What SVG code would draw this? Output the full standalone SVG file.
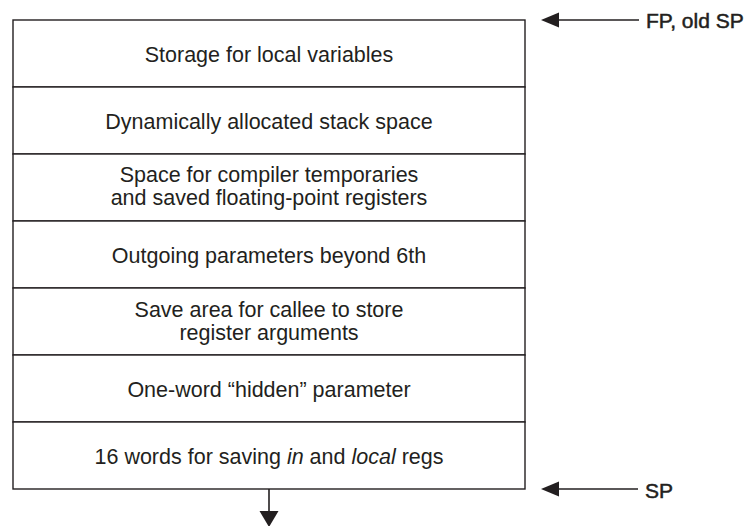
<svg xmlns="http://www.w3.org/2000/svg" width="747" height="526" viewBox="0 0 747 526">
<style>
  .box { fill: #ffffff; stroke: #231f20; stroke-width: 1.4; }
  .t { font-family: "Liberation Sans", Arial, sans-serif; font-size: 21.5px; fill: #231f20; text-anchor: middle; }
  .lbl { font-family: "Liberation Sans", Arial, sans-serif; font-size: 21px; fill: #231f20; stroke: #231f20; stroke-width: 0.5; }
  .ln { stroke: #231f20; stroke-width: 1.6; fill: none; }
  .hd { fill: #231f20; }
</style>
<rect width="747" height="526" fill="#ffffff"/>
<g id="row1"><rect class="box" x="13" y="20" width="512" height="67"/><text class="t" x="269" y="62">Storage for local variables</text></g>
<g id="row2"><rect class="box" x="13" y="87" width="512" height="67"/><text class="t" x="269" y="129">Dynamically allocated stack space</text></g>
<g id="row3"><rect class="box" x="13" y="154" width="512" height="67"/><text class="t" x="269" y="182">Space for compiler temporaries</text><text class="t" x="269" y="205">and saved floating-point registers</text></g>
<g id="row4"><rect class="box" x="13" y="221" width="512" height="67"/><text class="t" x="269" y="263">Outgoing parameters beyond 6th</text></g>
<g id="row5"><rect class="box" x="13" y="288" width="512" height="67"/><text class="t" x="269" y="317">Save area for callee to store</text><text class="t" x="269" y="340">register arguments</text></g>
<g id="row6"><rect class="box" x="13" y="355" width="512" height="67"/><text class="t" x="269" y="397">One-word “hidden” parameter</text></g>
<g id="row7"><rect class="box" x="13" y="422" width="512" height="67"/><text class="t" x="269" y="464">16 words for saving <tspan font-style="italic">in</tspan> and <tspan font-style="italic">local</tspan> regs</text></g>
<g id="labelFP"><text class="lbl" x="646" y="27.5">FP, old SP</text></g>
<g id="labelSP"><text class="lbl" x="645" y="497.5">SP</text></g>
<g id="connectors">
  <line class="ln" x1="557" y1="20" x2="639" y2="20"/>
  <polygon class="hd" points="541,20 559,12.5 559,27.5"/>
  <line class="ln" x1="557" y1="489" x2="638" y2="489"/>
  <polygon class="hd" points="541,489 559,481.5 559,496.5"/>
  <line class="ln" x1="269" y1="489" x2="269" y2="513"/>
  <polygon class="hd" points="259.5,511 278.5,511 269,527"/>
</g>
</svg>
